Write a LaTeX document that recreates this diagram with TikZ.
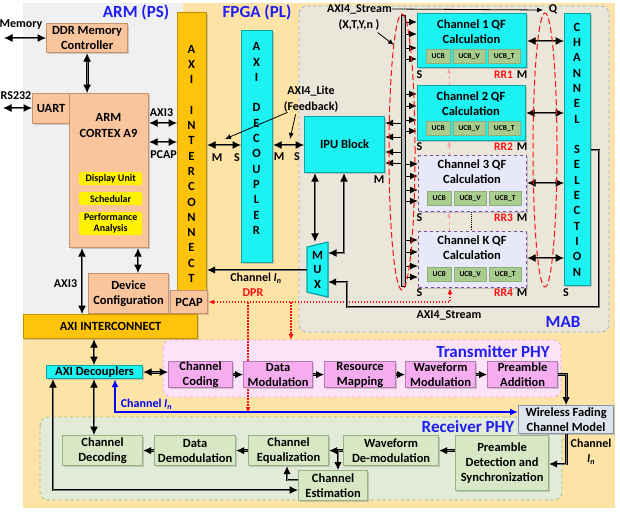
\documentclass[tikz,border=0pt]{standalone}
\usepackage{fontspec}
\setmainfont{Carlito}
\usetikzlibrary{arrows.meta,shadows}
\pgfdeclarelayer{back}
\pgfdeclarelayer{mid}
\pgfsetlayers{back,mid,main}
\definecolor{bgbeige}{HTML}{FDE3A6}
\definecolor{armgray}{HTML}{F0F0F0}
\definecolor{mabF}{HTML}{EAE6DA}
\definecolor{mabD}{HTML}{8DB4E2}
\definecolor{txF}{HTML}{FCE3F7}
\definecolor{txD}{HTML}{EE9FE6}
\definecolor{rxF}{HTML}{E2EBD8}
\definecolor{rxD}{HTML}{9CBC62}
\definecolor{peachF}{HTML}{FAC59C}
\definecolor{peachD}{HTML}{C8936C}
\definecolor{cyanF}{HTML}{1CF2F2}
\definecolor{cyanD}{HTML}{0AA5A5}
\definecolor{goldF}{HTML}{FFC40A}
\definecolor{goldD}{HTML}{BF9000}
\definecolor{pinkF}{HTML}{F5ADF0}
\definecolor{pinkD}{HTML}{B479B0}
\definecolor{greenF}{HTML}{D7E8C5}
\definecolor{greenD}{HTML}{98B283}
\definecolor{ucbF}{HTML}{A9CD8F}
\definecolor{lavF}{HTML}{E7E9F8}
\definecolor{purpleD}{HTML}{7A4AA0}
\definecolor{wfF}{HTML}{DDE4EE}
\definecolor{wfD}{HTML}{8394AE}
\definecolor{tblue}{HTML}{1F1FF5}
\definecolor{rred}{HTML}{FF1010}
\definecolor{pinkarr}{HTML}{F4A0A0}
\newcommand\mybox[6]{\node[#1,anchor=north west,minimum width={#5-#3},minimum height={#6-#4}] (#2) at (#3,#4)}
\begin{document}
\begin{tikzpicture}[x=1pt,y=-1pt,
  every node/.style={font=\bfseries\fontsize{12.5}{15}\selectfont, inner sep=0pt, align=center},
  shad/.style={drop shadow={shadow xshift=1.2pt,shadow yshift=-1.2pt,opacity=.35}},
  peach/.style={fill=peachF, draw=peachD, line width=1.2pt, shad},
  cyanbox/.style={fill=cyanF, draw=cyanD, line width=1.2pt, shad},
  gold/.style={fill=goldF, draw=goldD, line width=1.2pt, shad},
  pinkbox/.style={fill=pinkF, draw=pinkD, line width=1.2pt, shad},
  greenbox/.style={fill=greenF, draw=greenD, line width=1.2pt, shad},
  wfbox/.style={fill=wfF, draw=wfD, line width=1.2pt, shad},
  lavbox/.style={fill=lavF, draw=purpleD, line width=1.2pt, dashed, shad},
  ybox/.style={fill=yellow, rounded corners=2pt, font=\bfseries\fontsize{10}{11}\selectfont},
  ucb/.style={fill=ucbF, draw=ucbF!85!black, line width=0.4pt, anchor=north west, minimum height=14, font=\bfseries\fontsize{7.5}{8}\selectfont},
  busst/.style={fill=gray!55, draw=black, line width=0.7pt},
  darr/.style={draw=black, line width=1pt, double=black!55, double distance=0.9pt, {Latex[length=8.5pt,width=8pt]}-{Latex[length=8.5pt,width=8pt]}},
  sarr/.style={draw=black, line width=1pt, double=black!55, double distance=0.9pt, -{Latex[length=8pt,width=7.5pt]}},
  tarr/.style={draw=black, line width=0.8pt, -{Latex[length=6pt,width=5pt]}},
  barr/.style={draw=black, line width=1pt, -{Latex[length=8pt,width=7pt]}},
  dpr/.style={draw=rred, line width=1.2pt, dash pattern=on 1.5pt off 1.5pt},
  lbl/.style={font=\bfseries\fontsize{12}{14}\selectfont},
  rr/.style={font=\bfseries\fontsize{11.5}{13}\selectfont, text=rred},
  title/.style={font=\bfseries\fontsize{17}{19}\selectfont, text=tblue},
  vert/.style={font=\bfseries\fontsize{12.5}{15.3}\selectfont}]
\useasboundingbox (0,0) rectangle (620,512);
\begin{pgfonlayer}{back}
\fill[white] (0,0) rectangle (620,512);
\fill[bgbeige] (23,3) rectangle (615,508);
\fill[armgray] (23,3) rectangle (183,314);
\draw[mabD, dashed, fill=mabF, rounded corners=8pt, line width=0.8pt] (299,6) rectangle (609,332);
\draw[txD, dashed, fill=txF, rounded corners=8pt, line width=0.8pt] (163,340) rectangle (561,397);
\draw[rxD, dashed, fill=rxF, rounded corners=8pt, line width=0.8pt] (40,417) rectangle (562,500);
\end{pgfonlayer}
% titles
\node[title] (tarm) at (136,12) {ARM (PS)};
\node[title] (tfpga) at (257,12) {FPGA (PL)};
\node[title] (tmab) at (563,322) {MAB};
\node[title] (ttx) at (493,352) {Transmitter PHY};
\node[title] (trx) at (468,427) {Receiver PHY};
% ARM side
\mybox{peach}{ddr}{46}{23}{127}{52}{DDR Memory\\Controller};
\mybox{peach}{uart}{32}{93}{69}{123}{UART};
\mybox{peach}{arm}{69}{93}{148}{247}{};
\node[font=\bfseries\fontsize{12.5}{16}\selectfont] (armt) at (108.5,125) {ARM\\CORTEX A9};
\mybox{ybox}{disp}{79}{172}{142}{185}{Display Unit};
\mybox{ybox}{sched}{79}{192}{142}{205}{Schedular};
\mybox{ybox}{perf}{79}{212}{142}{235}{Performance\\Analysis};
\mybox{peach}{devcfg}{88}{273}{168}{313}{Device\\Configuration};
\mybox{gold}{axiv}{177}{12}{206}{290}{};
\node[vert] (axivt) at (191.5,163.7) {A\\X\\I\\~\\I\\N\\T\\E\\R\\C\\O\\N\\N\\E\\C\\T};
\mybox{peach}{pcap}{170}{290}{207}{313}{PCAP};
\mybox{gold}{axih}{23}{314}{197}{338}{AXI INTERCONNECT};
\node[lbl] (lmem) at (21,25) {Memory};
\node[lbl] (lrs) at (16,96) {RS232};
\node[lbl] (laxa) at (161.5,113) {AXI3};
\node[lbl] (lpca) at (163.5,155) {PCAP};
\node[lbl] (laxb) at (65.5,284) {AXI3};
\coordinate (memL) at (4,38);
\coordinate (rsL) at (3,108);
\draw[darr] (memL) -- (ddr.west |- memL);
\draw[darr] (rsL) -- (uart.west |- rsL);
\draw[darr] (ddr.south) -- (ddr.south |- arm.north);
\draw[darr] (arm.east |- 0,123) -- (axiv.west |- 0,123);
\draw[darr] (arm.east |- 0,142) -- (axiv.west |- 0,142);
\draw[darr] (arm.south -| 138,0) -- (devcfg.north -| 138,0);
\draw[darr] (arm.south -| 82,0) -- (axih.north -| 82,0);
% FPGA
\mybox{cyanbox}{axidec}{241}{30}{272}{262}{};
\node[vert] (axidect) at (256.5,138.5) {A\\X\\I\\~\\D\\E\\C\\O\\U\\P\\L\\E\\R};
\mybox{cyanbox}{ipu}{304}{116}{384}{172}{IPU Block};
\filldraw[fill=cyanF, draw=cyanD, line width=1.2pt, shad] (307,247) -- (328,242) -- (328,297) -- (307,292) -- cycle;
\node[font=\bfseries\fontsize{12.5}{14.5}\selectfont, minimum width=21, minimum height=55] (mux) at (317.5,269.5) {M\\U\\X};
\draw[darr] (axiv.east |- 0,145) -- (axidec.west |- 0,145);
\draw[darr] (axidec.east |- 0,145) -- (ipu.west |- 0,145);
\node[lbl] (m1) at (217,158) {M};
\node[lbl] (s1) at (237,158) {S};
\node[lbl] (m2) at (279,157) {M};
\node[lbl] (s2) at (297,157) {S};
\node[lbl] (mipu) at (379,180) {M};
\node[font=\bfseries\fontsize{12}{16}\selectfont] (lite) at (311,99) {AXI4\_Lite\\(Feedback)};
\draw[tarr] (lite.south west) ++(4,0) -- (225,139);
\draw[tarr] (lite.south west) ++(12,2) -- (290,139);
\draw[darr] (ipu.south -| 315,0) -- (mux.north -| 315,0);
\draw[darr] (mux.east |- 0,253) -- (344,253) -- (ipu.south -| 344,0);
\draw[sarr] (mux.west |- 0,270) -- (axiv.east |- 0,270);
\node[lbl] (lchn) at (256,278) {Channel \textit{I}\textsubscript{\textit{n}}};
% channels
\mybox{busst}{bus}{401}{15}{405}{286}{};
\mybox{cyanbox}{ch1}{417}{13}{526}{67}{};
\mybox{cyanbox}{ch2}{417}{85}{525}{140}{};
\mybox{lavbox}{ch3}{418}{155}{526}{211}{};
\mybox{lavbox}{chK}{418}{231}{526}{287}{};
\node (t1) at (471.5,32) {Channel 1 QF\\Calculation};
\node (t2) at (471,104) {Channel 2 QF\\Calculation};
\node (t3) at (472,172) {Channel 3 QF\\Calculation};
\node (tK) at (472,248) {Channel K QF\\Calculation};
\foreach \y/\L in {49/417,121/417,191/418,267/418}{
  \node[ucb, minimum width=24] (ua\y) at (\L+9,\y) {UCB};
  \node[ucb, minimum width=32] (ub\y) at (\L+36,\y) {UCB\_V};
  \node[ucb, minimum width=32] (uc\y) at (\L+71,\y) {UCB\_T};
}
\foreach \y/\k in {75/1,147/2,218/3,293/4}{
  \node[lbl] (s\k) at (419.5,\y) {S};
  \node[rr] (rr\k) at (503.5,\y) {RR\k};
  \node[lbl] (mm\k) at (522,\y) {M};
}
\mybox{cyanbox}{chsel}{564}{13}{590}{285}{};
\node[vert] (chselt) at (577,149.5) {C\\H\\A\\N\\N\\E\\L\\~\\S\\E\\L\\E\\C\\T\\I\\O\\N};
\node[lbl] (ssel) at (566,293) {S};
\foreach \nm/\T in {ch1/13,ch2/85,ch3/155,chK/231}{
  \foreach \o in {9,21,35,46}{
    \pgfmathsetmacro\yy{\T+\o}
    \draw[barr] (bus.east |- 0,\yy) -- (\nm.west |- 0,\yy);
  }
}
\foreach \yy in {123,137,152,163}{
  \draw[barr] (bus.west |- 0,\yy) -- (ipu.east |- 0,\yy);
}
\foreach \nm/\yy in {ch1/41,ch2/113,ch3/183,chK/258}{
  \draw[darr] (\nm.east |- 0,\yy) -- (chsel.west |- 0,\yy);
}
\draw[pinkarr, dashed, line width=0.8pt, -{Latex[length=5pt,width=4pt]}] (ch2.north -| 449,0) -- (ch1.south -| 449,0);
\draw[pinkarr, dashed, line width=0.8pt, -{Latex[length=5pt,width=4pt]}] (ch3.north -| 449,0) -- (ch2.south -| 449,0);
\draw[pinkarr, dashed, line width=0.8pt, -{Latex[length=5pt,width=4pt]}] (chK.north -| 449,0) -- (ch3.south -| 449,0);
\draw[densely dotted, line width=0.9pt] (ch3.south -| 471,0) -- (chK.north -| 471,0);
\draw[sarr] (chsel.east |- 0,150) -- (599,150) -- (599,307) -- (347,307) -- (347,282) -- (mux.east |- 0,282);
\node[lbl] (axs) at (359.5,9) {AXI4\_Stream};
\node[lbl] (xtyn) at (359,25) {(X,T,Y,n )};
\node[lbl] (q) at (553,9.5) {Q};
\draw[tarr] (axs.east) -- (543,10);
\draw[tarr] (xtyn.south east) ++(-2,2) -- (394,45);
\node[lbl] (axs2) at (449,315) {AXI4\_Stream};
\draw[rred, line width=1pt, dash pattern=on 6pt off 3pt] (402,152) ellipse [x radius=13pt, y radius=138pt];
\draw[rred, line width=1pt, dash pattern=on 6pt off 3pt] (545,150) ellipse [x radius=12pt, y radius=137pt];
% transmitter
\mybox{cyanbox}{axidecs}{46}{365}{142}{378}{AXI Decouplers};
\mybox{pinkbox}{cc}{168}{361}{232}{387}{Channel\\Coding};
\mybox{pinkbox}{dm}{243}{361}{312}{387}{Data\\Modulation};
\mybox{pinkbox}{rm}{324}{361}{395}{387}{Resource\\Mapping};
\mybox{pinkbox}{wm}{405}{361}{475}{387}{Waveform\\Modulation};
\mybox{pinkbox}{pa}{487}{361}{557}{387}{Preamble\\Addition};
\mybox{wfbox}{wfc}{518}{405}{613}{433}{Wireless Fading\\Channel Model};
\draw[darr] (axih.south -| 94,0) -- (axidecs.north -| 94,0);
\draw[darr] (axidecs.east) -- (cc.west |- axidecs.east);
\draw[sarr] (cc.east) -- (dm.west);
\draw[sarr] (dm.east) -- (rm.west);
\draw[sarr] (rm.east) -- (wm.west);
\draw[sarr] (wm.east) -- (pa.west);
\draw[sarr] (pa.east) -- (pa.east -| wfc.north) -- (wfc.north);
\draw[draw=blue, line width=1.6pt, {Latex[length=8pt,width=7pt]}-{Latex[length=8pt,width=7pt]}] (axidecs.south -| 115,0) -- (115,412) -- (wfc.west |- 0,412);
\node[lbl, text=blue] (lchb) at (146.5,404) {Channel \textit{I}\textsubscript{\textit{n}}};
% receiver
\mybox{greenbox}{pds}{455}{435}{548}{490}{Preamble\\Detection and\\Synchronization};
\mybox{greenbox}{wd}{343}{435}{438}{465}{Waveform\\De-modulation};
\mybox{greenbox}{ceq}{248}{435}{328}{465}{Channel\\Equalization};
\mybox{greenbox}{dd}{154}{435}{235}{465}{Data\\Demodulation};
\mybox{greenbox}{cd}{62}{435}{142}{465}{Channel\\Decoding};
\mybox{greenbox}{ce}{298}{470}{367}{500}{Channel\\Estimation};
\draw[sarr] (wfc.south) -- (wfc.south |- 0,464) -- (pds.east |- 0,464);
\node[lbl, font=\bfseries\fontsize{12}{15}\selectfont] (lchr) at (591,452) {Channel\\\textit{I}\textsubscript{\textit{n}}};
\draw[sarr] (pds.west |- wd.east) -- (wd.east);
\draw[sarr] (wd.west) -- (ceq.east);
\draw[sarr] (338,450) -- (ce.north -| 338,0);
\draw[sarr] (ce.west |- 0,480) -- (287,480) -- (ceq.south -| 287,0);
\draw[sarr] (ceq.west) -- (dd.east);
\draw[sarr] (dd.west) -- (cd.east);
\draw[darr] (axidecs.south -| 94,0) -- (cd.north -| 94,0);
\draw[darr] (axidecs.south -| 53,0) -- (53,490) -- (ce.west |- 0,490);
% DPR
\begin{pgfonlayer}{mid}
\draw[dpr, {Latex[length=6pt,width=5pt]}-{Latex[length=6pt,width=5pt]}] (pcap.east |- 0,302) -- (450,302) -- (chK.south -| 450,0);
\draw[dpr, -{Latex[length=6pt,width=5pt]}] (248,302) -- (248,413);
\draw[dpr, -{Latex[length=6pt,width=5pt]}] (291,302) -- (291,340);
\end{pgfonlayer}
\node[lbl, text=rred] (ldpr) at (253,293) {DPR};
\end{tikzpicture}
\end{document}
